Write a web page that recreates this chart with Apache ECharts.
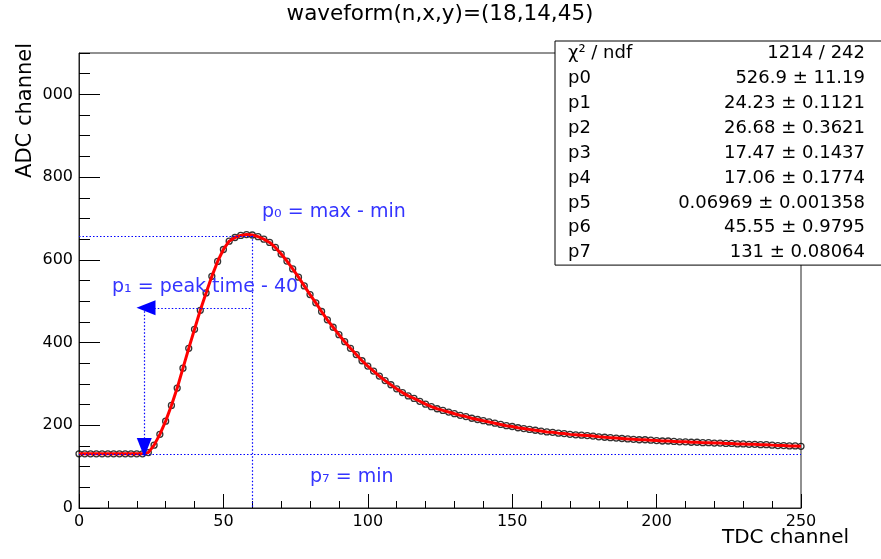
<!DOCTYPE html>
<html><head><meta charset="utf-8">
<script src="https://cdn.jsdelivr.net/npm/echarts@6/dist/echarts.min.js"></script>
<style>html,body{margin:0;padding:0;background:#fff}#c{width:881px;height:559px}</style>
</head><body><div id="c"></div>
<script>
// ---- data ----
const tdcChannel = [0,2,4,6,8,10,12,14,16,18,20,22,24,26,28,30,32,34,36,38,40,42,44,46,48,50,52,54,56,58,60,62,64,66,68,70,72,74,76,78,80,82,84,86,88,90,92,94,96,98,100,102,104,106,108,110,112,114,116,118,120,122,124,126,128,130,132,134,136,138,140,142,144,146,148,150,152,154,156,158,160,162,164,166,168,170,172,174,176,178,180,182,184,186,188,190,192,194,196,198,200,202,204,206,208,210,212,214,216,218,220,222,224,226,228,230,232,234,236,238,240,242,244,246,248,250];
const adcValue = [131,131,131,131,131,131,131,131,131,131,131,131,134,152,178,210,248,290,338,386,432,478,520,560,596,625,645,654,659,661,660,656,650,642,630,614,597,578,558,537,516,496,475,455,437,419,402,386,371,356,343,331,319,308,298,288,279,271,265,258,251,245,240,236,232,228,224,221,217,214,211,208,205,202,199,197,194,192,190,188,186,184,183,181,180,178,177,176,175,174,172,171,170,169,168,167,166,165,165,164,163,162,162,161,160,160,159,159,158,158,157,157,156,156,155,155,154,154,153,153,152,151,151,150,150,149];

const statNames = ['χ² / ndf','p0','p1','p2','p3','p4','p5','p6','p7'];
const statValues = ['1214 / 242','526.9 ± 11.19','24.23 ± 0.1121','26.68 ± 0.3621','17.47 ± 0.1437','17.06 ± 0.1774','0.06969 ± 0.001358','45.55 ± 0.9795','131 ± 0.08064'];

const titleText = 'waveform(n,x,y)=(18,14,45)';
const xTitle = 'TDC channel';
const yTitle = 'ADC channel';

// annotation values (data units)
const minLevel = 131;        // p7
const maxLevel = 657.9;      // p0 + p7
const peakTime = 60;
const arrowLevel = 484;
const startTime = 22.6;
const arrowTipLevel = 146;

const FONT = 'DejaVu Sans';
const BLUE = '#0000ff';
const BLUE_TEXT = '#3434ff';

const chart = echarts.init(document.getElementById('c'), null, {renderer: 'canvas'});

const dotted = {color: BLUE, width: 1.2, type: [1.5, 2]};
const statRowH = 24.9, statTop = 41;
const statGraphics = [];
statNames.forEach((n, i) => {
  const cy = statTop + statRowH * (i + 0.5);
  statGraphics.push({type: 'text', z: 101, x: 568, y: cy,
    style: {text: n, font: '18px "' + FONT + '"', fill: '#000', textAlign: 'left', textVerticalAlign: 'middle'}});
  statGraphics.push({type: 'text', z: 101, x: 865, y: cy,
    style: {text: statValues[i], font: '18px "' + FONT + '"', fill: '#000', textAlign: 'right', textVerticalAlign: 'middle'}});
});

const option = {
  backgroundColor: '#fff',
  animation: false,
  grid: {left: 79, right: 80, top: 53, bottom: 51, show: true, borderColor: '#222', borderWidth: 1, backgroundColor: 'transparent'},
  xAxis: [
    {type: 'value', min: 0, max: 250, interval: 50, position: 'bottom',
     axisLine: {show: true, onZero: false, lineStyle: {color: '#222', width: 1}},
     axisTick: {inside: true, length: 14, lineStyle: {color: '#000'}},
     axisLabel: {fontFamily: FONT, fontSize: 16, color: '#000', margin: 6},
     splitLine: {show: false}},
    {type: 'value', min: 0, max: 250, interval: 10, position: 'bottom', offset: 0,
     axisLine: {show: false}, axisTick: {inside: true, length: 7, lineStyle: {color: '#000'}},
     axisLabel: {show: false}, splitLine: {show: false}}
  ],
  yAxis: [
    {type: 'value', min: 0, max: 1100, interval: 200, position: 'left',
     axisLine: {show: true, onZero: false, lineStyle: {color: '#222', width: 1}},
     axisTick: {inside: true, length: 21, lineStyle: {color: '#000'}},
     axisLabel: {fontFamily: FONT, fontSize: 16, color: '#000', margin: 6, showMaxLabel: false,
       formatter: v => (v === 1000 ? '000' : String(v))},
     splitLine: {show: false}},
    {type: 'value', min: 0, max: 1100, interval: 50, position: 'left', offset: 0,
     axisLine: {show: false}, axisTick: {inside: true, length: 11, lineStyle: {color: '#000'}},
     axisLabel: {show: false}, splitLine: {show: false}}
  ],
  series: [
    {type: 'scatter', name: 'data', xAxisIndex: 0, yAxisIndex: 0, z: 3,
     symbol: 'circle', symbolSize: 6,
     itemStyle: {color: 'rgba(0,0,0,0)', borderColor: '#000', borderWidth: 1.3},
     data: tdcChannel.map((x, i) => [x, adcValue[i]])},
    {type: 'line', name: 'fit', xAxisIndex: 0, yAxisIndex: 0, z: 4,
     showSymbol: false, smooth: false,
     lineStyle: {color: '#ff0000', width: 3},
     data: tdcChannel.map((x, i) => [x, adcValue[i]])},
    {type: 'line', name: 'annot', xAxisIndex: 0, yAxisIndex: 0, z: 5, data: [],
     markLine: {silent: true, symbol: ['none', 'none'], label: {show: false},
       lineStyle: dotted,
       data: [
         [{coord: [0, maxLevel]}, {coord: [peakTime, maxLevel]}],
         [{coord: [peakTime, maxLevel]}, {coord: [peakTime, 0]}],
         [{coord: [0, minLevel]}, {coord: [250, minLevel]}],
         [{coord: [peakTime - 0.7, arrowLevel], symbol: 'none'}, {coord: [startTime + 0.6, arrowLevel], symbol: 'triangle', symbolSize: [15, 19]}],
         [{coord: [startTime, arrowLevel], symbol: 'none'}, {coord: [startTime, arrowTipLevel], symbol: 'triangle', symbolSize: [15, 19]}]
       ],
       itemStyle: {color: BLUE}
     }}
  ],
  graphic: [
    {type: 'text', z: 101, x: 440, y: 14, style: {text: titleText, font: '21.5px "' + FONT + '"', fill: '#000', textAlign: 'center', textVerticalAlign: 'middle'}},
    {type: 'text', z: 101, x: 849, y: 548, style: {text: xTitle, font: '20px "' + FONT + '"', fill: '#000', textAlign: 'right', textVerticalAlign: 'bottom'}},
    {type: 'text', z: 101, x: 36, y: 43, rotation: Math.PI / 2, style: {text: yTitle, font: '21px "' + FONT + '"', fill: '#000', textAlign: 'right', textVerticalAlign: 'bottom'}},
    {type: 'text', z: 101, x: 262, y: 222, style: {text: 'p₀ = max - min', font: '19px "' + FONT + '"', fill: BLUE_TEXT, textAlign: 'left', textVerticalAlign: 'bottom'}},
    {type: 'text', z: 101, x: 112, y: 297, style: {text: 'p₁ = peak time - 40', font: '19px "' + FONT + '"', fill: BLUE_TEXT, textAlign: 'left', textVerticalAlign: 'bottom'}},
    {type: 'text', z: 101, x: 310, y: 487, style: {text: 'p₇ = min', font: '19px "' + FONT + '"', fill: BLUE_TEXT, textAlign: 'left', textVerticalAlign: 'bottom'}},
    {type: 'rect', z: 100, shape: {x: 555, y: statTop, width: 330, height: statRowH * 9}, style: {fill: '#fff', stroke: '#000', lineWidth: 1}}
  ].concat(statGraphics)
};
chart.setOption(option);
</script>
</body></html>
